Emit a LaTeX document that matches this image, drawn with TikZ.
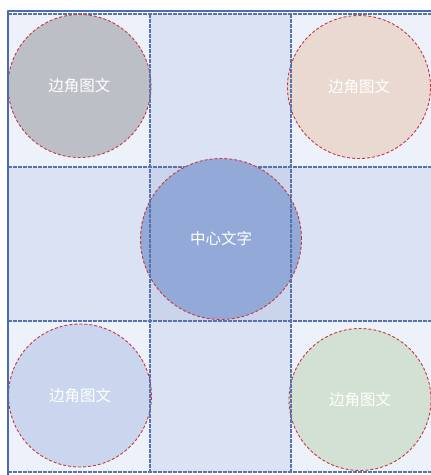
\documentclass[tikz,border=0pt]{standalone}
\usepackage{fontspec}
\newfontfamily\cjk{Noto Sans CJK SC}
\definecolor{framblue}{HTML}{4A6CB0}
\definecolor{gridblue}{HTML}{5773AC}
\definecolor{cornerbg}{HTML}{EDF1FA}
\definecolor{edgebg}{HTML}{DAE2F4}
\definecolor{centerbg}{HTML}{CAD5EC}
\definecolor{discred}{HTML}{C8373F}
\definecolor{discgray}{HTML}{BCBFC6}
\definecolor{discpink}{HTML}{E9D9D1}
\definecolor{discblue}{HTML}{93A9D7}
\definecolor{disclight}{HTML}{C9D6ED}
\definecolor{discgreen}{HTML}{D2E1D3}
\begin{document}
\begin{tikzpicture}[x=1pt, y=-1pt, line join=round,
		cellline/.style={draw=gridblue, line width=1.3pt, dash pattern=on 3.5pt off 1.5pt},
		disc/.style={circle, draw=discred, line width=0.9pt, dash pattern=on 3pt off 2pt,
			inner sep=0pt, text=white, font=\cjk\fontsize{15.5}{18}\selectfont}]
	\useasboundingbox (0,0) rectangle (431,475);
	\clip (0,0) rectangle (431,475);
	% cell fills
	\foreach \xa/\xb/\ya/\yb/\c in {8/150/14/167/cornerbg, 150/291/14/167/edgebg, 291/433/14/167/cornerbg,
		8/150/167/321/edgebg, 150/291/167/321/centerbg, 291/433/167/321/edgebg,
		8/150/321/472/cornerbg, 150/291/321/472/edgebg, 291/433/321/472/cornerbg}
	\fill[\c] (\xa,\ya) rectangle (\xb,\yb);
	% rows
	\foreach \y in {14,167,321,472}
	\draw[cellline] (8,\y) -- (433,\y);
	% discs
	\node[disc, fill=discgray, minimum size=143pt] (tl) at (79.5,86) {边角图文};
	\node[disc, fill=discpink, minimum size=143pt] (tr) at (359,87) {边角图文};
	\node[disc, fill=discblue, minimum size=161pt] (mid) at (221,239) {中心文字};
	\node[disc, fill=disclight, minimum size=143pt] (bl) at (80,395.5) {边角图文};
	\node[disc, fill=discgreen, minimum size=142pt] (br) at (360,399.5) {边角图文};
	% columns
	\foreach \x in {150,291}
	\draw[cellline] (\x,14) -- (\x,472);
	\draw[framblue, line width=1.2pt] (8,11) rectangle (440,480);
\end{tikzpicture}
\end{document}
